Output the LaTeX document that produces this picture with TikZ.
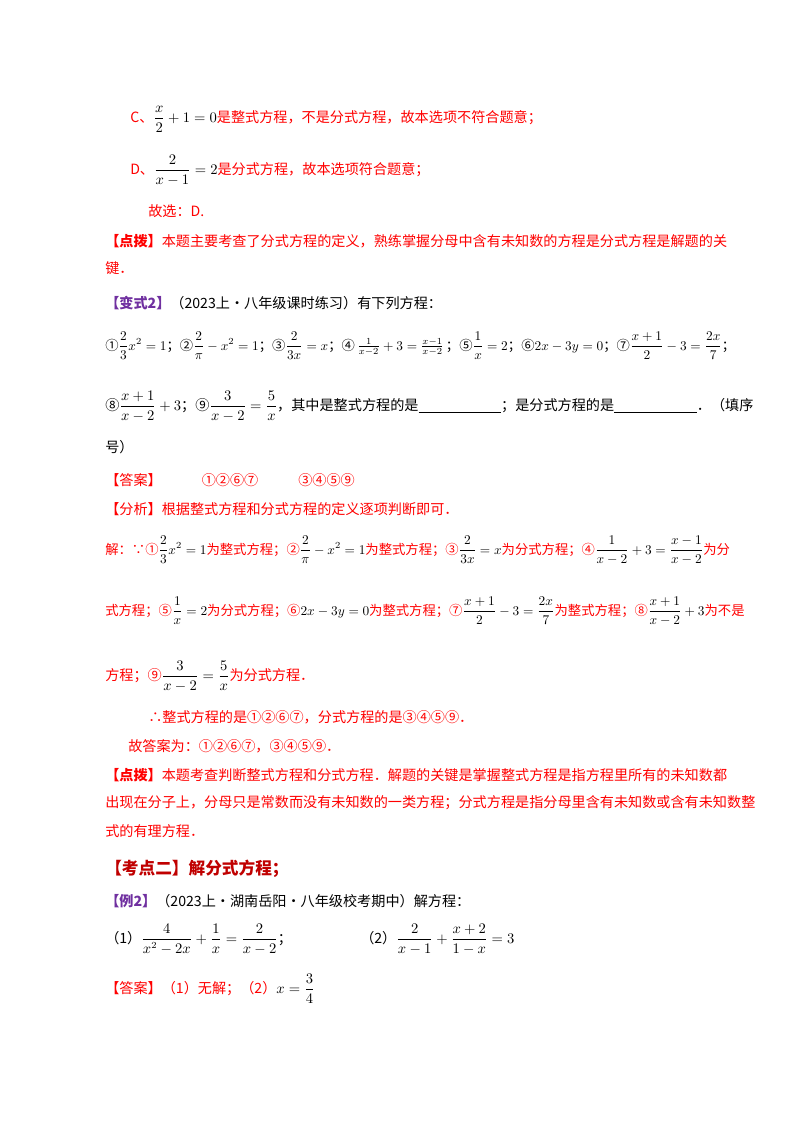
\documentclass[tikz,border=0pt]{standalone}
\usepackage{amsmath}
\usepackage{fontspec}
\setmainfont{Noto Sans CJK SC}
\definecolor{rd}{HTML}{FF0000}
\definecolor{pp}{HTML}{7030A0}
\definecolor{dr}{HTML}{C00000}
\newcommand{\mm}[1]{{\color{black}$\displaystyle #1$}}
\newcommand{\blk}{\underline{\hspace{62pt}}}
\begin{document}
\begin{tikzpicture}[x=0.75pt,y=-0.75pt,
  t/.style={anchor=base west,inner sep=0pt,font=\fontsize{10.6}{12}\selectfont},
  r/.style={t,text=rd},
  k/.style={t,text=black},
  sm/.style={font=\fontsize{10}{12}\selectfont}]
\useasboundingbox[fill=white] (0,0) rectangle (800,1132);
\node[r] (l1) at (130,122) {C、\mm{\frac{x}{2}+1=0}是整式方程，不是分式方程，故本选项不符合题意；};
\node[r] (l2) at (130,174) {D、\mm{\frac{2}{x-1}=2}是分式方程，故本选项符合题意；};
\node[r] (l3) at (148,216) {故选：D.};
\node[r] (l4) at (105,246) {\textbf{【点拨】}本题主要考查了分式方程的定义，熟练掌握分母中含有未知数的方程是分式方程是解题的关};
\node[r] (l5) at (105,273) {键．};
\node[k] (l6) at (105,308) {\textbf{\color{pp}【变式2】}（2023上·八年级课时练习）有下列方程：};
\node[k,sm] (l7) at (105,350) {①$\displaystyle\frac{2}{3}x^2=1$；②$\displaystyle\frac{2}{\pi}-x^2=1$；③$\displaystyle\frac{2}{3x}=x$；④$\,\frac{1}{x-2}+3=\frac{x-1}{x-2}\,$；⑤$\displaystyle\frac{1}{x}=2$；⑥$2x-3y=0$；⑦$\displaystyle\frac{x+1}{2}-3=\frac{2x}{7}$；};
\node[k] (l8) at (105,410) {⑧$\displaystyle\frac{x+1}{x-2}+3$；⑨$\displaystyle\frac{3}{x-2}=\frac{5}{x}$，其中是整式方程的是\blk；是分式方程的是\blk．（填序};
\node[k] (l9) at (105,452) {号）};
\node[r] (l10) at (105,485) {【答案】\hspace{30pt}①②⑥⑦\hspace{30pt}③④⑤⑨};
\node[r] (l11) at (105,514) {【分析】根据整式方程和分式方程的定义逐项判断即可．};
\node[r,sm] (l12) at (105,554) {解：∵①\mm{\frac{2}{3}x^2=1}为整式方程；②\mm{\frac{2}{\pi}-x^2=1}为整式方程；③\mm{\frac{2}{3x}=x}为分式方程；④\mm{\frac{1}{x-2}+3=\frac{x-1}{x-2}}为分};
\node[r,sm] (l13) at (105,615) {式方程；⑤\mm{\frac{1}{x}=2}为分式方程；⑥\mm{2x-3y=0}为整式方程；⑦\mm{\frac{x+1}{2}-3=\frac{2x}{7}}为整式方程；⑧\mm{\frac{x+1}{x-2}+3}为不是};
\node[r] (l14) at (105,680) {方程；⑨\mm{\frac{3}{x-2}=\frac{5}{x}}为分式方程．};
\node[r] (l15) at (148,722) {∴整式方程的是①②⑥⑦，分式方程的是③④⑤⑨．};
\node[r] (l16) at (128,751) {故答案为：①②⑥⑦，③④⑤⑨．};
\node[r] (l17) at (105,780) {\textbf{【点拨】}本题考查判断整式方程和分式方程．解题的关键是掌握整式方程是指方程里所有的未知数都};
\node[r] (l18) at (105,807) {出现在分子上，分母只是常数而没有未知数的一类方程；分式方程是指分母里含有未知数或含有未知数整};
\node[r] (l19) at (105,836) {式的有理方程．};
\node[t,text=dr,font=\fontsize{12.5}{14}\selectfont\bfseries] (l20) at (105,874) {【考点二】解分式方程；};
\node[k] (l21) at (105,906) {\textbf{\color{pp}【例2】}（2023上·湖南岳阳·八年级校考期中）解方程：};
\node[k] (l22) at (105,943) {（1）$\displaystyle\frac{4}{x^2-2x}+\frac{1}{x}=\frac{2}{x-2}$；};
\node[k] (l23) at (360,943) {（2）$\displaystyle\frac{2}{x-1}+\frac{x+2}{1-x}=3$};
\node[r] (l24) at (105,993) {【答案】（1）无解；（2）\mm{x=\frac{3}{4}}};
\end{tikzpicture}
\end{document}
